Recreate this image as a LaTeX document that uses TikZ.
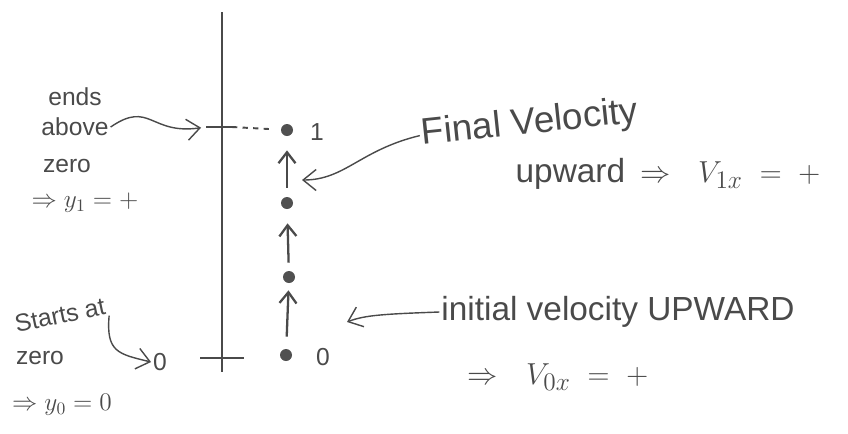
\documentclass[tikz,border=0pt]{standalone}
\usepackage{amsmath,amssymb}
\usepackage{fontspec}
\setmainfont{Liberation Sans}
\usepackage{xcolor}
\usepackage{tikz}
\usetikzlibrary{arrows.meta}
\definecolor{penc}{HTML}{4A4A4A}
\definecolor{dotc}{HTML}{505050}
\tikzset{
  ax/.style={penc,line width=1.1pt},
  ar/.style={-{Straight Barb[length=2.2mm,width=3.4mm]},penc,line width=1.3pt},
  cur/.style={-{Straight Barb[length=2.6mm,width=4.2mm]},penc,line width=0.8pt},
  dt/.style={circle,fill=dotc,minimum size=2.4mm,inner sep=0pt},
  hw/.style={penc,inner sep=1pt,font=\fontsize{14}{16}\selectfont},
  hwl/.style={penc,inner sep=1pt,font=\fontsize{19}{22}\selectfont}
}

\begin{document}
\begin{tikzpicture}[x=0.2mm,y=-0.2mm]
\useasboundingbox (0,0) rectangle (848,433);
% position axis
\coordinate (atop) at (222,12);
\coordinate (abot) at (222,372);
\draw[ax] (atop)--(abot);
\coordinate (t0a) at (200,358);
\coordinate (t0b) at (244,358);
\draw[ax] (t0a)--(t0b);
\coordinate (t1a) at (206,127);
\coordinate (t1b) at (232,127);
\draw[ax] (t1a)--(t1b);
% ball positions
\node[dt] (d1) at (287,130) {};
\node[dt] (d2) at (287,203) {};
\node[dt] (d3) at (289,277) {};
\node[dt] (d0) at (286,355) {};
\draw[ax,dashed,shorten >=2.2mm] (t1b)--(d1);
\draw[ar,shorten <=1.8mm,shorten >=2.8mm] (d2)--(d1);
\draw[ar,shorten <=1.6mm,shorten >=2.8mm] (d3)--(d2);
\draw[ar,shorten <=2.4mm,shorten >=1.4mm] (d0)--(d3);
\node[hw] (n1) at (317,132) {1};
\node[hw] (n0) at (323,357) {0};
% left notes
\node[hw] (ends) at (75,97) {ends};
\node[hw] (above) at (75,127) {above};
\node[hw] (zeroa) at (67,166) {zero};
\node[hw] (ypos) at (85,203) {$\Rightarrow y_1=+$};
\node[hw,rotate=12] (starts) at (60,315) {Starts at};
\node[hw] (zerob) at (40,358) {zero};
\node[hw] (yzero) at (62,405) {$\Rightarrow y_0=0$};
\node[hw] (lbl0) at (160,362) {0};
\draw[cur,shorten >=1mm] (above.east) .. controls (150,100) and (150,135) .. (t1a);
\draw[cur] (starts.south east) .. controls (106,352) and (118,354) .. (lbl0.west);
% right notes
\node[hwl,rotate=6,font=\fontsize{21}{24}\selectfont] (final) at (530,124) {Final Velocity};
\node[hwl] (fup) at (668,174) {upward\, $\Rightarrow$\;\; $V_{1x}\;=\;+$};
\node[hwl] (init) at (618,312) {initial velocity UPWARD};
\node[hwl] (vox) at (558,377) {$\Rightarrow$\;\; $V_{0x}\;=\;+$};
\coordinate (fvtip) at (302,180);
\coordinate (ivtip) at (347,322);
\draw[cur] (final.west) .. controls (360,150) and (345,180) .. (fvtip);
\draw[cur] (init.west) .. controls (385,314) and (365,315) .. (ivtip);
\end{tikzpicture}
\end{document}
